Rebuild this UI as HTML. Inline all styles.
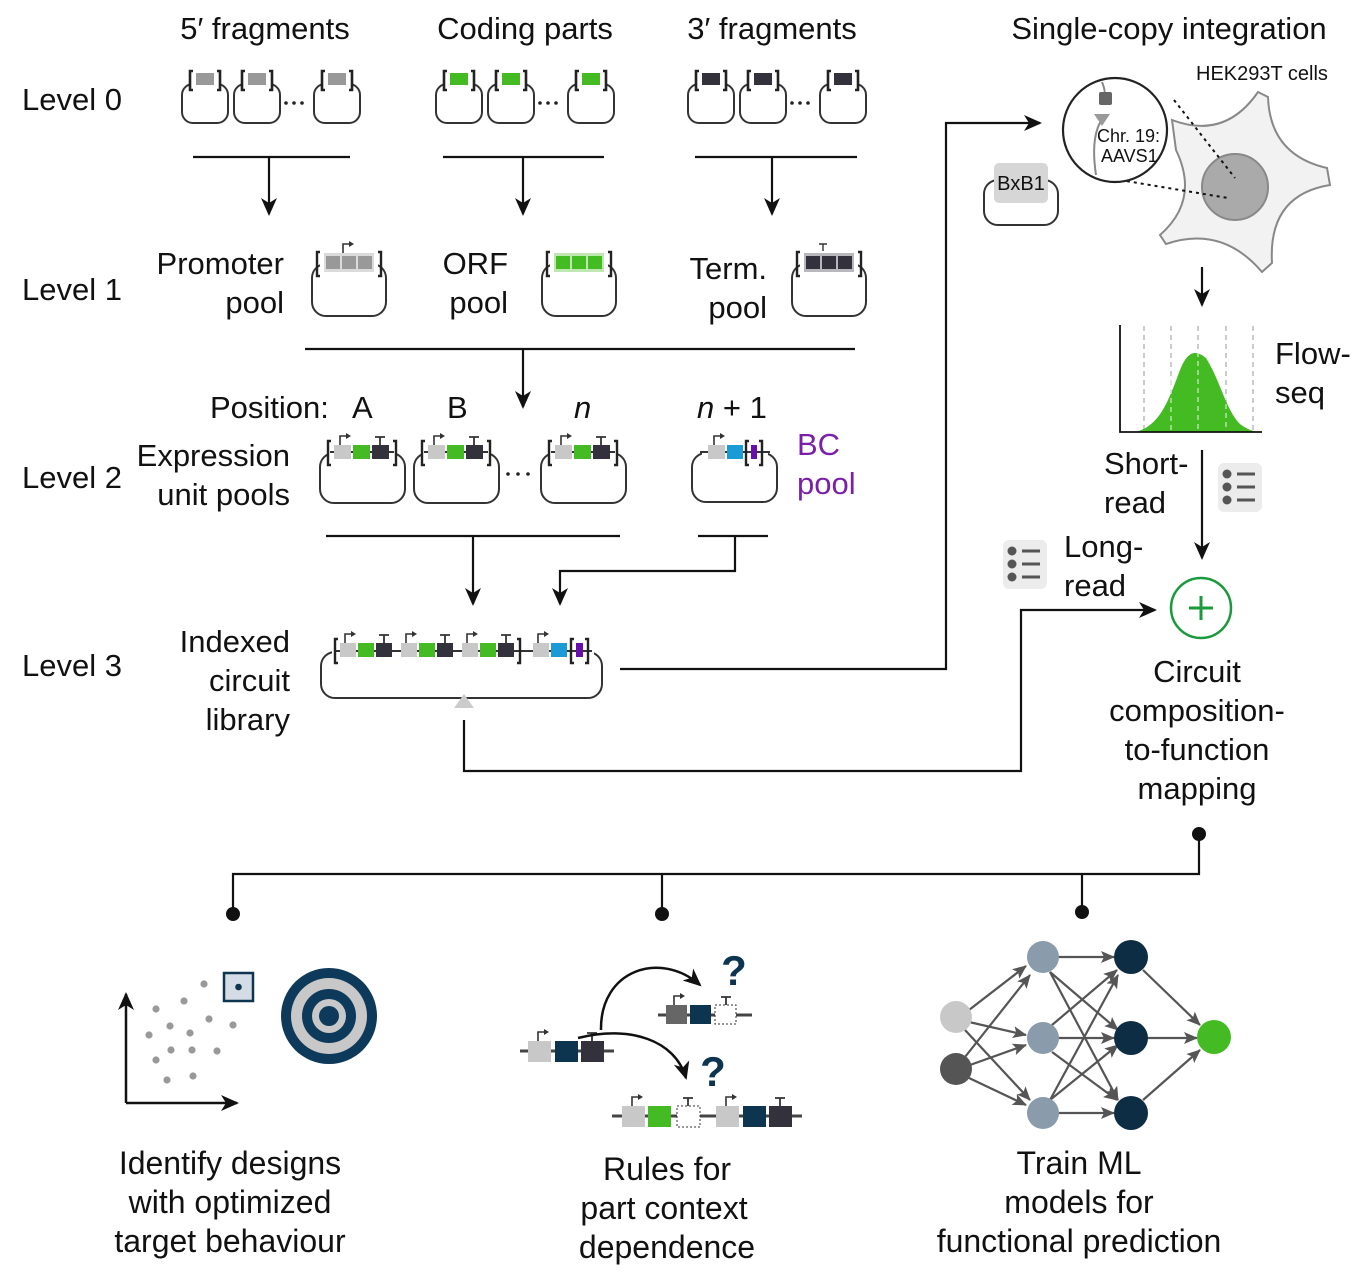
<!DOCTYPE html>
<html><head><meta charset="utf-8"><style>
html,body{margin:0;padding:0;background:#fff;}
svg{display:block;font-family:"Liberation Sans",Arial,sans-serif;}
</style></head><body>
<svg width="1354" height="1284" viewBox="0 0 1354 1284" xmlns="http://www.w3.org/2000/svg">
<defs>
<marker id="ahg" markerWidth="14" markerHeight="12" refX="13" refY="6" orient="auto" markerUnits="userSpaceOnUse">
<path d="M0,0 L14,6 L0,12 L3,6 Z" fill="#555"/></marker>
<marker id="ahb" markerWidth="18" markerHeight="16" refX="16" refY="8" orient="auto" markerUnits="userSpaceOnUse">
<path d="M0,0 L18,8 L0,16 L5,8 Z" fill="#111"/></marker>
<g id="p0">
<rect x="0" y="14" width="46" height="39" rx="11" fill="none" stroke="#333" stroke-width="2"/>
<rect x="8" y="9" width="30" height="10" fill="#fff"/>
<path d="M11,1 h-3 v19 h3 M35,1 h3 v19 h-3" fill="none" stroke="#222" stroke-width="2.6"/>
<rect x="14" y="3" width="18" height="12" fill="currentColor"/>
</g>
<g id="p1">
<rect x="0" y="14" width="74" height="52" rx="14" fill="none" stroke="#333" stroke-width="2"/>
<rect x="8" y="8" width="58" height="12" fill="#fff"/>
<path d="M8,2 h-3 v24 h3 M66,2 h3 v24 h-3" fill="none" stroke="#222" stroke-width="2.4"/>
<rect x="12" y="3" width="50" height="19" fill="currentColor" opacity="0.35"/>
<rect x="14" y="6" width="14" height="13" fill="currentColor"/>
<rect x="30" y="6" width="14" height="13" fill="currentColor"/>
<rect x="46" y="6" width="14" height="13" fill="currentColor"/>
</g>
<g id="p2">
<rect x="0" y="12" width="85" height="50" rx="14" fill="none" stroke="#333" stroke-width="2"/>
<rect x="8" y="6" width="68" height="12" fill="#fff"/>
<path d="M11,0 h-3 v24 h3 M73,0 h3 v24 h-3" fill="none" stroke="#222" stroke-width="2.4"/>
<line x1="10" y1="11" x2="74" y2="11" stroke="#333" stroke-width="2"/>
<rect x="14" y="4" width="17" height="14" fill="#c8c8c8"/>
<rect x="33" y="4" width="17" height="14" fill="#44bb22"/>
<rect x="52" y="4" width="17" height="14" fill="#33323c"/>
<path d="M20,4 v-9 h7" fill="none" stroke="#333" stroke-width="1.6"/><path d="M26,-8 l5,3 l-5,3z" fill="#333"/>
<path d="M60,4 v-8 M55,-4 h10" fill="none" stroke="#333" stroke-width="1.8"/>
</g>
<g id="prom"><path d="M0,0 v-9 h7" fill="none" stroke="#333" stroke-width="1.6"/><path d="M6,-12 l5,3 l-5,3z" fill="#333"/></g>
<g id="term"><path d="M0,0 v-8 M-5,-8 h10" fill="none" stroke="#333" stroke-width="1.8"/></g>
</defs>

<!-- headings -->
<g font-size="31" fill="#111" text-anchor="middle">
<text x="265" y="39">5′ fragments</text>
<text x="525" y="39">Coding parts</text>
<text x="772" y="39">3′ fragments</text>
<text x="1169" y="39">Single-copy integration</text>
</g>
<g font-size="31" fill="#111">
<text x="22" y="110">Level 0</text>
<text x="22" y="300">Level 1</text>
<text x="22" y="488">Level 2</text>
<text x="22" y="676">Level 3</text>
</g>

<!-- level 0 -->
<use href="#p0" x="182" y="70" style="color:#999"/>
<use href="#p0" x="234" y="70" style="color:#999"/>
<use href="#p0" x="314" y="70" style="color:#999"/>
<use href="#p0" x="436" y="70" style="color:#44bb22"/>
<use href="#p0" x="488" y="70" style="color:#44bb22"/>
<use href="#p0" x="568" y="70" style="color:#44bb22"/>
<use href="#p0" x="688" y="70" style="color:#33323c"/>
<use href="#p0" x="740" y="70" style="color:#33323c"/>
<use href="#p0" x="820" y="70" style="color:#33323c"/>
<g fill="#222"><circle cx="286" cy="103" r="1.8"/><circle cx="294" cy="103" r="1.8"/><circle cx="302" cy="103" r="1.8"/>
<circle cx="540" cy="103" r="1.8"/><circle cx="548" cy="103" r="1.8"/><circle cx="556" cy="103" r="1.8"/>
<circle cx="792" cy="103" r="1.8"/><circle cx="800" cy="103" r="1.8"/><circle cx="808" cy="103" r="1.8"/></g>

<g stroke="#111" stroke-width="2.2" fill="none">
<line x1="193" y1="157" x2="350" y2="157"/><line x1="269" y1="157" x2="269" y2="214" marker-end="url(#ahb)"/>
<line x1="443" y1="157" x2="604" y2="157"/><line x1="523" y1="157" x2="523" y2="214" marker-end="url(#ahb)"/>
<line x1="695" y1="157" x2="857" y2="157"/><line x1="772" y1="157" x2="772" y2="214" marker-end="url(#ahb)"/>
</g>

<!-- level 1 -->
<g font-size="31" fill="#111" text-anchor="end">
<text x="284" y="274">Promoter</text><text x="284" y="313">pool</text>
<text x="508" y="274">ORF</text><text x="508" y="313">pool</text>
<text x="767" y="279">Term.</text><text x="767" y="318">pool</text>
</g>
<use href="#p1" x="312" y="250" style="color:#999"/>
<use href="#p1" x="542" y="250" style="color:#44bb22"/>
<use href="#p1" x="792" y="250" style="color:#33323c"/>
<use href="#prom" x="343" y="253"/>
<path d="M823,251 v-7 M819,244 h8" stroke="#333" stroke-width="1.4"/>

<g stroke="#111" stroke-width="2.2" fill="none">
<line x1="305" y1="349" x2="855" y2="349"/><line x1="523" y1="349" x2="523" y2="407" marker-end="url(#ahb)"/>
</g>

<!-- level 2 -->
<g font-size="31" fill="#111">
<text x="210" y="418">Position:</text>
<text x="352" y="418">A</text>
<text x="447" y="418">B</text>
<text x="574" y="418" font-style="italic">n</text>
<text x="697" y="418"><tspan font-style="italic">n</tspan> + 1</text>
</g>
<g font-size="31" fill="#111" text-anchor="end">
<text x="290" y="466">Expression</text><text x="290" y="505">unit pools</text>
</g>
<g font-size="31" fill="#7a1fa8"><text x="797" y="455">BC</text><text x="797" y="494">pool</text></g>
<use href="#p2" x="320" y="441"/>
<use href="#p2" x="414" y="441"/>
<use href="#p2" x="541" y="441"/>
<g fill="#222"><circle cx="508" cy="474" r="1.8"/><circle cx="518" cy="474" r="1.8"/><circle cx="528" cy="474" r="1.8"/></g>
<!-- BC plasmid -->
<rect x="692" y="453" width="85" height="49" rx="14" fill="none" stroke="#333" stroke-width="2"/>
<rect x="702" y="446" width="66" height="12" fill="#fff"/>
<line x1="700" y1="452" x2="770" y2="452" stroke="#333" stroke-width="2"/>
<rect x="708" y="445" width="17" height="14" fill="#c8c8c8"/>
<rect x="727" y="445" width="16" height="14" fill="#1a9ad6"/>
<path d="M749,441 h-3 v24 h3 M759,441 h3 v24 h-3" fill="none" stroke="#222" stroke-width="2.4"/>
<rect x="751" y="445" width="6" height="14" fill="#6a0dad"/>
<use href="#prom" x="714" y="445"/>

<g stroke="#111" stroke-width="2.2" fill="none">
<line x1="326" y1="536" x2="620" y2="536"/><line x1="473" y1="536" x2="473" y2="604" marker-end="url(#ahb)"/>
<line x1="698" y1="536" x2="768" y2="536"/><polyline points="735,536 735,571 560,571 560,604" marker-end="url(#ahb)"/>
</g>

<!-- level 3 -->
<g font-size="31" fill="#111" text-anchor="end">
<text x="290" y="652">Indexed</text><text x="290" y="691">circuit</text><text x="290" y="730">library</text>
</g>
<rect x="321" y="652" width="281" height="46" rx="14" fill="none" stroke="#333" stroke-width="2"/>
<rect x="332" y="646" width="262" height="12" fill="#fff"/>
<line x1="336" y1="651" x2="592" y2="651" stroke="#333" stroke-width="2"/>
<g>
<rect x="340" y="643" width="16" height="14" fill="#c8c8c8"/><rect x="358" y="643" width="16" height="14" fill="#44bb22"/><rect x="376" y="643" width="16" height="14" fill="#33323c"/>
<rect x="401" y="643" width="16" height="14" fill="#c8c8c8"/><rect x="419" y="643" width="16" height="14" fill="#44bb22"/><rect x="437" y="643" width="16" height="14" fill="#33323c"/>
<rect x="462" y="643" width="16" height="14" fill="#c8c8c8"/><rect x="480" y="643" width="16" height="14" fill="#44bb22"/><rect x="498" y="643" width="16" height="14" fill="#33323c"/>
<rect x="533" y="643" width="16" height="14" fill="#c8c8c8"/><rect x="551" y="643" width="16" height="14" fill="#1a9ad6"/>
<rect x="576" y="643" width="7" height="14" fill="#6a0dad"/>
</g>
<path d="M338,639 h-3 v24 h3 M517,639 h3 v24 h-3 M574,639 h-3 v24 h3 M585,639 h3 v24 h-3" fill="none" stroke="#222" stroke-width="2.4"/>
<use href="#prom" x="345" y="643"/><use href="#prom" x="406" y="643"/><use href="#prom" x="467" y="643"/><use href="#prom" x="538" y="643"/>
<use href="#term" x="384" y="643"/><use href="#term" x="445" y="643"/><use href="#term" x="506" y="643"/>
<path d="M454,708 L464,694 L474,708 Z" fill="#ccc"/>

<g stroke="#111" stroke-width="2.2" fill="none">
<polyline points="620,669 946,669 946,123 1040,123" marker-end="url(#ahb)"/>
<polyline points="464,720 464,771 1021,771 1021,610 1155,610" marker-end="url(#ahb)"/>
</g>

<!-- cell -->
<path d="M1258,92 L1268,97 Q1270,155 1327,168 L1330,185 Q1268,195 1272,263 L1262,272 Q1222,225 1166,244 L1160,235 Q1200,200 1176,150 L1172,120 Q1225,140 1258,92 Z" fill="#f2f2f2" stroke="#888" stroke-width="2"/>
<circle cx="1235" cy="187" r="33" fill="#aaa" stroke="#888" stroke-width="2"/>
<g stroke="#111" stroke-width="2" stroke-dasharray="3,4" fill="none">
<line x1="1174" y1="100" x2="1235" y2="178"/><line x1="1120" y1="180" x2="1228" y2="198"/>
</g>
<circle cx="1115" cy="130" r="52" fill="#fff" stroke="#222" stroke-width="2.2"/>
<path d="M1102,82 Q1106,92 1104,95 M1103,118 Q1090,135 1096,175" fill="none" stroke="#888" stroke-width="2"/>
<rect x="1099" y="92" width="13" height="13" rx="2" fill="#666"/>
<path d="M1094,114 l8,12 l8,-12 z" fill="#999"/>
<g font-size="18" fill="#111"><text x="1097" y="142">Chr. 19:</text><text x="1101" y="162">AAVS1</text></g>
<text x="1196" y="80" font-size="20" fill="#111">HEK293T cells</text>
<!-- BxB1 -->
<rect x="984" y="180" width="74" height="45" rx="14" fill="none" stroke="#333" stroke-width="2"/>
<rect x="994" y="163" width="54" height="40" rx="5" fill="#d6d6d6"/>
<text x="1021" y="190" font-size="20" text-anchor="middle" fill="#111">BxB1</text>

<line x1="1202" y1="267" x2="1202" y2="305" stroke="#111" stroke-width="2.2" marker-end="url(#ahb)"/>
<!-- histogram -->
<g stroke="#bbb" stroke-width="1.5" stroke-dasharray="5,4">
<line x1="1144" y1="326" x2="1144" y2="432"/><line x1="1171" y1="326" x2="1171" y2="432"/><line x1="1198" y1="326" x2="1198" y2="432"/><line x1="1226" y1="326" x2="1226" y2="432"/><line x1="1253" y1="326" x2="1253" y2="432"/>
</g>
<path d="M1136,432 C1160,425 1168,402 1180,370 C1188,350 1196,350 1206,358 C1220,380 1226,410 1240,424 C1248,430 1254,432 1262,432 Z" fill="#44bb22"/>
<g stroke="#fff" stroke-width="1.5" stroke-dasharray="5,4" opacity="0.6">
<line x1="1171" y1="380" x2="1171" y2="432"/><line x1="1198" y1="352" x2="1198" y2="432"/><line x1="1226" y1="395" x2="1226" y2="432"/>
</g>
<polyline points="1120,325 1120,432 1262,432" fill="none" stroke="#111" stroke-width="1.8"/>
<g font-size="31" fill="#111"><text x="1275" y="364">Flow-</text><text x="1275" y="403">seq</text>
<text x="1104" y="474">Short-</text><text x="1104" y="513">read</text>
<text x="1064" y="557">Long-</text><text x="1064" y="596">read</text></g>
<line x1="1202" y1="450" x2="1202" y2="558" stroke="#111" stroke-width="2.2" marker-end="url(#ahb)"/>
<!-- list icons -->
<g>
<rect x="1218" y="463" width="44" height="49" rx="6" fill="#ececec"/>
<g fill="#555"><circle cx="1227" cy="474" r="4.5"/><circle cx="1227" cy="487" r="4.5"/><circle cx="1227" cy="500" r="4.5"/></g>
<g stroke="#555" stroke-width="3"><line x1="1237" y1="474" x2="1255" y2="474"/><line x1="1237" y1="487" x2="1255" y2="487"/><line x1="1237" y1="500" x2="1255" y2="500"/></g>
<rect x="1003" y="540" width="44" height="49" rx="6" fill="#ececec"/>
<g fill="#555"><circle cx="1012" cy="551" r="4.5"/><circle cx="1012" cy="564" r="4.5"/><circle cx="1012" cy="577" r="4.5"/></g>
<g stroke="#555" stroke-width="3"><line x1="1022" y1="551" x2="1040" y2="551"/><line x1="1022" y1="564" x2="1040" y2="564"/><line x1="1022" y1="577" x2="1040" y2="577"/></g>
</g>
<circle cx="1201" cy="608" r="30" fill="#fff" stroke="#1a9a3a" stroke-width="2.5"/>
<path d="M1201,596 v24 M1189,608 h24" stroke="#1a9a3a" stroke-width="3"/>
<g font-size="31" fill="#111" text-anchor="middle">
<text x="1197" y="682">Circuit</text><text x="1197" y="721">composition-</text><text x="1197" y="760">to-function</text><text x="1197" y="799">mapping</text>
</g>

<!-- bottom connectors -->
<g stroke="#111" stroke-width="2.2" fill="none">
<polyline points="1199,834 1199,874 233,874 233,914"/>
<line x1="662" y1="874" x2="662" y2="914"/><line x1="1082" y1="874" x2="1082" y2="912"/>
</g>
<g fill="#111"><circle cx="1199" cy="834" r="7"/><circle cx="233" cy="914" r="7"/><circle cx="662" cy="914" r="7"/><circle cx="1082" cy="912" r="7"/></g>

<!-- panel 1 -->
<g stroke="#111" stroke-width="2.5" fill="none">
<line x1="126" y1="1103" x2="126" y2="994" marker-end="url(#ahb)"/>
<line x1="126" y1="1103" x2="237" y2="1103" marker-end="url(#ahb)"/>
</g>
<g fill="#999">
<circle cx="204" cy="984" r="3.6"/><circle cx="184" cy="1001" r="3.6"/><circle cx="156" cy="1009" r="3.6"/><circle cx="209" cy="1019" r="3.6"/><circle cx="233" cy="1025" r="3.6"/>
<circle cx="170" cy="1026" r="3.6"/><circle cx="149" cy="1035" r="3.6"/><circle cx="190" cy="1033" r="3.6"/><circle cx="171" cy="1050" r="3.6"/><circle cx="192" cy="1050" r="3.6"/>
<circle cx="217" cy="1051" r="3.6"/><circle cx="156" cy="1060" r="3.6"/><circle cx="193" cy="1076" r="3.6"/><circle cx="167" cy="1080" r="3.6"/>
</g>
<rect x="224" y="973" width="29" height="28" fill="#d4dde6" stroke="#0d3550" stroke-width="2.5"/>
<circle cx="238.5" cy="987" r="3.3" fill="#0d3550"/>
<circle cx="329" cy="1016" r="48" fill="#0d3a5a"/><circle cx="329" cy="1016" r="38" fill="#c8c8c8"/>
<circle cx="329" cy="1016" r="27" fill="#0d3a5a"/><circle cx="329" cy="1016" r="17" fill="#c8c8c8"/><circle cx="329" cy="1016" r="10" fill="#0d3a5a"/>
<g font-size="32" fill="#111" text-anchor="middle">
<text x="230" y="1174">Identify designs</text><text x="230" y="1213">with optimized</text><text x="230" y="1252">target behaviour</text>
</g>

<!-- panel 2 -->
<g stroke="#444" stroke-width="3">
<line x1="520" y1="1051" x2="614" y2="1051"/>
<line x1="658" y1="1015" x2="752" y2="1015"/>
<line x1="612" y1="1116" x2="802" y2="1116"/>
</g>
<g>
<rect x="528" y="1041" width="23" height="21" fill="#c8c8c8"/><rect x="555" y="1041" width="23" height="21" fill="#0d3550"/><rect x="581" y="1041" width="23" height="21" fill="#33323c"/>
<rect x="666" y="1005" width="21" height="19" fill="#666"/><rect x="690" y="1005" width="21" height="19" fill="#0d3550"/><rect x="715" y="1005" width="21" height="19" fill="#fff" stroke="#333" stroke-dasharray="2,2"/>
<rect x="622" y="1106" width="23" height="21" fill="#c8c8c8"/><rect x="648" y="1106" width="23" height="21" fill="#44bb22"/><rect x="677" y="1106" width="23" height="21" fill="#fff" stroke="#333" stroke-dasharray="2,2"/>
<rect x="716" y="1106" width="23" height="21" fill="#c8c8c8"/><rect x="743" y="1106" width="23" height="21" fill="#0d3550"/><rect x="769" y="1106" width="23" height="21" fill="#33323c"/>
</g>
<use href="#prom" x="538" y="1041"/><use href="#term" x="592" y="1041"/>
<use href="#prom" x="674" y="1005"/><use href="#term" x="726" y="1005"/>
<use href="#prom" x="632" y="1106"/><use href="#term" x="688" y="1106"/><use href="#prom" x="726" y="1106"/><use href="#term" x="780" y="1106"/>
<g stroke="#111" stroke-width="2.5" fill="none">
<path d="M601,1030 C600,970 660,950 700,985" marker-end="url(#ahb)"/>
<path d="M578,1038 C630,1025 675,1040 686,1078" marker-end="url(#ahb)"/>
</g>
<g font-size="42" fill="#0d3550" font-weight="bold" text-anchor="middle"><text x="734" y="985">?</text><text x="713" y="1086">?</text></g>
<g font-size="32" fill="#111" text-anchor="middle">
<text x="667" y="1180">Rules for</text><text x="664" y="1219">part context</text><text x="667" y="1258">dependence</text>
</g>

<!-- panel 3 NN -->
<g stroke="#555" stroke-width="2.2" marker-end="url(#ahg)">
<line x1="969" y1="1010" x2="1026" y2="966"/><line x1="969" y1="1022" x2="1026" y2="1035"/><line x1="965" y1="1030" x2="1030" y2="1100"/>
<line x1="965" y1="1057" x2="1030" y2="975"/><line x1="970" y1="1065" x2="1026" y2="1045"/><line x1="969" y1="1078" x2="1026" y2="1105"/>
<line x1="1057" y1="957" x2="1114" y2="957"/><line x1="1050" y1="972" x2="1118" y2="1030"/><line x1="1050" y1="972" x2="1118" y2="1100"/>
<line x1="1052" y1="1025" x2="1117" y2="970"/><line x1="1057" y1="1038" x2="1114" y2="1038"/><line x1="1052" y1="1052" x2="1117" y2="1100"/>
<line x1="1050" y1="1100" x2="1118" y2="975"/><line x1="1050" y1="1100" x2="1118" y2="1045"/><line x1="1057" y1="1113" x2="1114" y2="1113"/>
<line x1="1143" y1="970" x2="1200" y2="1025"/><line x1="1145" y1="1038" x2="1197" y2="1038"/><line x1="1143" y1="1100" x2="1200" y2="1050"/>
</g>
<circle cx="956" cy="1017" r="16" fill="#c8c8c8"/><circle cx="956" cy="1069" r="16" fill="#555"/>
<circle cx="1043" cy="957" r="16" fill="#8a9bab"/><circle cx="1043" cy="1038" r="16" fill="#8a9bab"/><circle cx="1043" cy="1113" r="16" fill="#8a9bab"/>
<circle cx="1131" cy="957" r="17" fill="#0d2d45"/><circle cx="1131" cy="1038" r="17" fill="#0d2d45"/><circle cx="1131" cy="1113" r="17" fill="#0d2d45"/>
<circle cx="1214" cy="1037" r="17" fill="#44bb22"/>
<g font-size="32" fill="#111" text-anchor="middle">
<text x="1079" y="1174">Train ML</text><text x="1079" y="1213">models for</text><text x="1079" y="1252">functional prediction</text>
</g>
</svg>
</body></html>
